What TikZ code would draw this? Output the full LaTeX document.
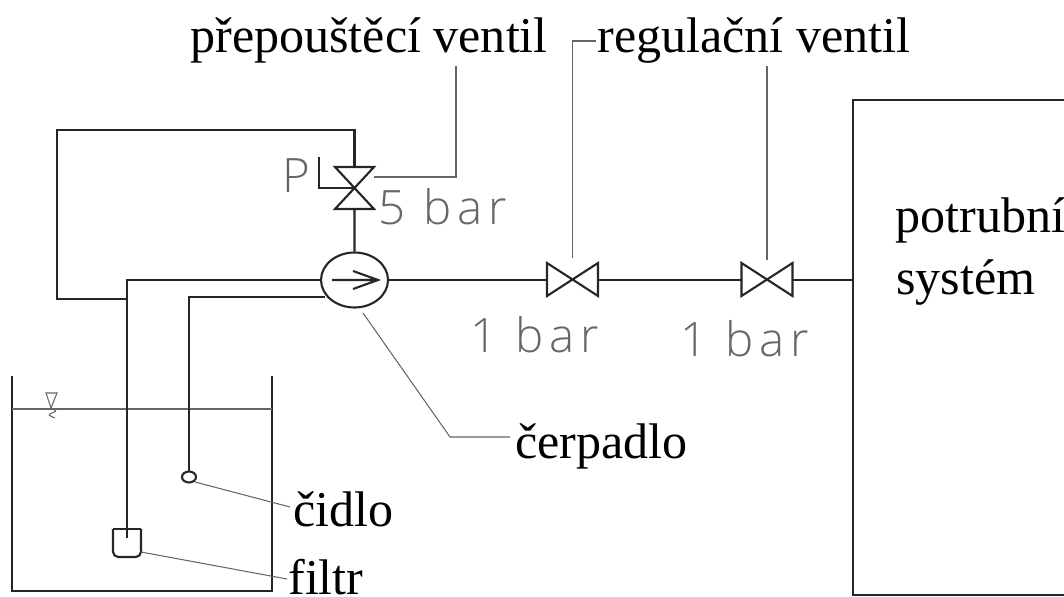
\documentclass[tikz,border=0pt]{standalone}
\usepackage{fontspec}
\setmainfont{Liberation Serif}
\newfontfamily\thinfont[LetterSpace=12]{Open Sans Light}
\usetikzlibrary{calc}
\usetikzlibrary{shapes.geometric}
\tikzset{
    pipe/.style={line width=1.2pt,black!85},
    leader/.style={line width=0.6pt,black!60},
    lbl/.style={inner sep=0pt,font=\fontsize{28.5}{32}\selectfont},
    thin lbl/.style={inner sep=0pt,text=black!60,font=\fontsize{27}{30}\thinfont},
}
\begin{document}
\begin{tikzpicture}[x=0.02cm,y=-0.02cm]
    \useasboundingbox (0,0) rectangle (1064,597);

    % nadrz
    \draw[pipe] (12,376) -- (12,591) -- (272,591) -- (272,376);
    \draw[leader] (12,409) -- (272,409);
    \draw[leader] (46,393) -- (57,393) -- (51,408) -- cycle;
    \draw[leader] (51,408) .. controls (57,411) .. (52,413) .. controls (48,415) .. (55,418);

    % potrubi
    \node[draw,pipe,ellipse,minimum width=1.34cm,minimum height=1.1cm,inner sep=0pt] (pump) at (354.5,280) {};
    \coordinate (top) at (354.5,188);
    \draw[pipe] (pump.north) -- (354.5,209) -- (335,209) -- (top) -- (374,167) -- (335,167) -- (top) -- (374,209) -- (354.5,209);
    \draw[pipe] (354.5,167) -- (354.5,130) -- (57,130) -- (57,299) -- (127,299);
    \draw[pipe] (319,157) -- (319,188) -- (top);
    \draw[pipe] (127,538) -- (127,280) -- (pump.west);
    \draw[pipe] (332,280) -- (378,280) (353,271) -- (378,280) -- (353,289);
    \coordinate (sensorpipe) at (189,472);
    \draw[pipe] (sensorpipe) -- (189,297) -- (325,297);
    \node[draw,pipe,ellipse,minimum width=0.28cm,minimum height=0.22cm,inner sep=0pt] (sensor) at (189,477) {};
    \draw[pipe] (113,529) -- (141,529);
    \draw[pipe,rounded corners=3pt] (113,529) -- (113,557) -- (141,557) -- (141,529);

    % ventily
    \foreach \x/\name in {572.5/a,767/b}{
        \coordinate (v\name) at (\x,280);
        \draw[pipe] (\x-25.5,263) -- (\x+25.5,296) -- (\x+25.5,263) -- (\x-25.5,296) -- cycle;
    }
    \node[draw,pipe,minimum width=4.6cm,minimum height=9.9cm,inner sep=0pt,anchor=north west] (system) at (852,99) {};
    \draw[pipe] (pump.east) -- (547,280);
    \draw[pipe] (598,280) -- (741,280);
    \draw[pipe] (793,280) -- (852,280);

    % popisky
    \node[lbl,anchor=base west] (bypass) at (190,53) {přepouštěcí ventil};
    \node[lbl,anchor=base west] (regul) at (597,53) {regulační ventil};
    \node[lbl,anchor=base west] (pumptxt) at (515,459) {čerpadlo};
    \node[lbl,anchor=base west] (sensortxt) at (293,526) {čidlo};
    \node[lbl,anchor=base west] (filtertxt) at (288,594) {filtr};
    \node[lbl,anchor=base west] (systemtxt) at (895,233) {potrubní};
    \node[lbl,anchor=base west] (systemtxtb) at (896,295) {systém};
    \node[thin lbl,anchor=base west] (p) at (282,193) {P};
    \node[thin lbl,anchor=base west] (bara) at (378,225) {5 bar};
    \node[thin lbl,anchor=base west] (barb) at (470,353) {1 bar};
    \node[thin lbl,anchor=base west] (barc) at (680,357) {1 bar};

    \draw[leader] (374,177) -- (456,177) -- (456,66);
    \draw[leader] (572.5,258) -- (572.5,41) -- (596,41);
    \draw[leader] (767,260) -- (767,66);
    \draw[leader] (363,313) -- (450,437) -- (510,437);
    \draw[leader] (195,482) -- (290,507);
    \draw[leader] (141,552) -- (287,579);
\end{tikzpicture}
\end{document}
